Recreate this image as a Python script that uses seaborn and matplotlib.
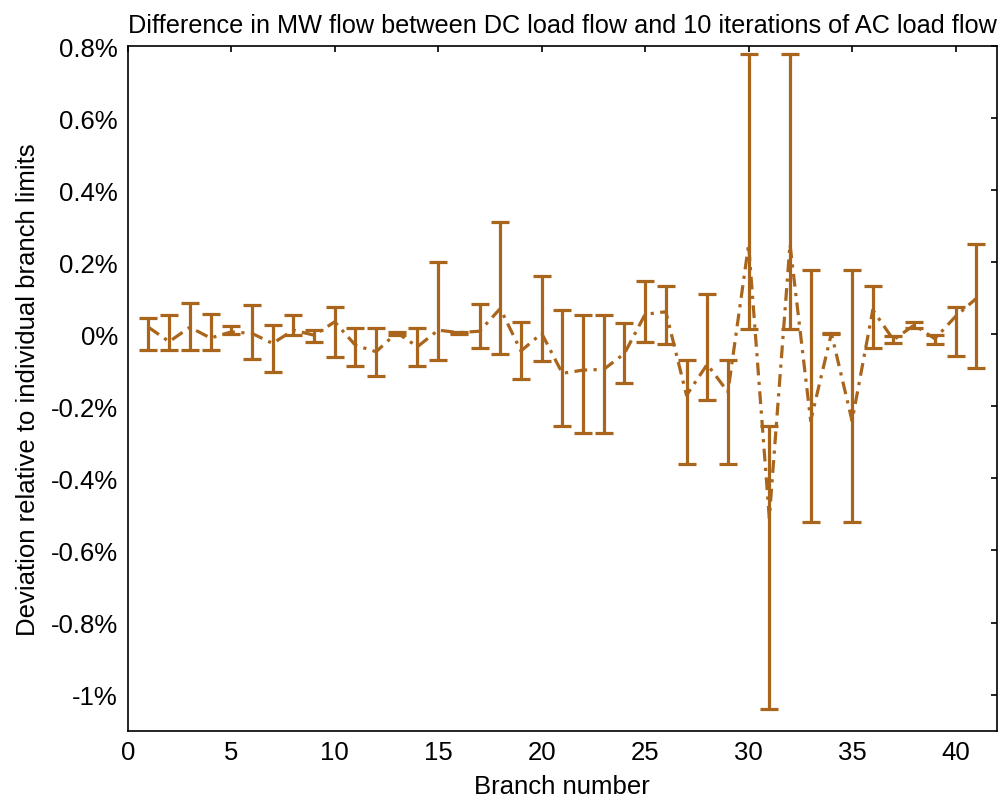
import numpy as np
import pandas as pd
import seaborn as sns
import matplotlib.pyplot as plt

# branch index and deviation (percent of branch limit)
branches = list(range(1, 42))
mean_dev = [0.02, -0.02, 0.02, -0.01, 0.007, 0.003, -0.025, 0.012, -0.002, 0.035,
            -0.03, -0.048, 0.005, -0.034, 0.012, 0.005, 0.009, 0.072, -0.046, 0.003,
            -0.108, -0.099, -0.097, -0.053, 0.056, 0.063, -0.169, -0.083, -0.16, 0.25,
            -0.51, 0.25, -0.24, 0.003, -0.24, 0.068, -0.015, 0.026, -0.012, 0.05, 0.10]
upper_dev = [0.046, 0.055, 0.086, 0.058, 0.024, 0.081, 0.026, 0.054, 0.012, 0.077,
             0.019, 0.019, 0.008, 0.019, 0.202, 0.008, 0.084, 0.313, 0.035, 0.162,
             0.069, 0.054, 0.054, 0.031, 0.148, 0.135, -0.071, 0.112, -0.071, 0.78,
             -0.255, 0.78, 0.18, 0.005, 0.18, 0.135, -0.003, 0.035, -0.002, 0.077, 0.25]
lower_dev = [-0.042, -0.042, -0.044, -0.042, 0.0, -0.067, -0.104, -0.002, -0.02, -0.062,
             -0.087, -0.116, -0.002, -0.087, -0.071, 0.0, -0.037, -0.053, -0.125, -0.074,
             -0.254, -0.275, -0.275, -0.136, -0.02, -0.027, -0.359, -0.183, -0.359, 0.014,
             -1.04, 0.014, -0.52, 0.0, -0.52, -0.037, -0.025, 0.017, -0.027, -0.059, -0.094]

xticks = [0, 5, 10, 15, 20, 25, 30, 35, 40]
yticks = [-1.0, -0.8, -0.6, -0.4, -0.2, 0.0, 0.2, 0.4, 0.6, 0.8]
ytick_labels = ['-1%', '-0.8%', '-0.6%', '-0.4%', '-0.2%', '0%', '0.2%', '0.4%', '0.6%', '0.8%']

color = '#AA651C'

df = pd.DataFrame({'branch': branches, 'mean': mean_dev,
                   'upper': upper_dev, 'lower': lower_dev})

sns.set_theme(style='white')
plt.rcParams['font.family'] = ['Liberation Sans', 'DejaVu Sans']

fig, ax = plt.subplots(figsize=(10.06, 8.03), dpi=100)
fig.subplots_adjust(left=0.127, right=0.991, bottom=0.089, top=0.941)

yerr = np.vstack([df['mean'] - df['lower'], df['upper'] - df['mean']])
ax.errorbar(df['branch'], df['mean'], yerr=yerr, fmt='none', ecolor=color,
            elinewidth=2.3, capsize=6.5, capthick=2.3, zorder=2)
sns.lineplot(data=df, x='branch', y='mean', ax=ax, color=color, linewidth=2.3,
             linestyle=(0, (4, 2, 1, 2)), zorder=3)

ax.set_xlim(0, 42)
ax.set_ylim(-1.1, 0.8)
ax.set_xticks(xticks)
ax.set_yticks(yticks)
ax.set_yticklabels(ytick_labels)
ax.tick_params(direction='in', length=4, width=1.2, top=True, right=True,
               labelsize=18.5, colors='black', pad=7)
for s in ax.spines.values():
    s.set_color('black')
    s.set_linewidth(1.2)

ax.set_xlabel('Branch number', fontsize=18.5, labelpad=7, color='black')
ax.set_ylabel('Deviation relative to individual branch limits', fontsize=18.5,
              labelpad=8, color='black')
ax.set_title('Difference in MW flow between DC load flow and 10 iterations of AC load flow',
             fontsize=18.2, pad=10, color='black')

fig.savefig('out.png', dpi=100)
